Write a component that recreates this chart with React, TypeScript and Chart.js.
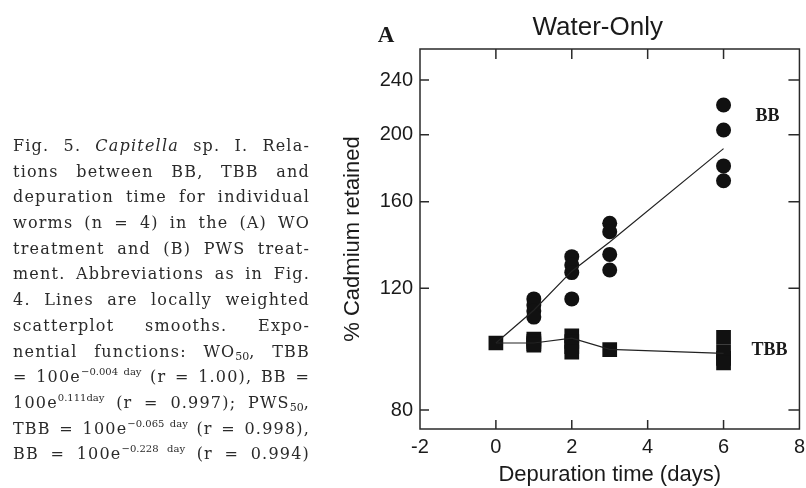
import React, { useEffect, useRef } from "react";
import { Chart, registerables } from "chart.js";

Chart.register(...registerables);

// ---- data ----
const bbDays = [1, 1, 1, 1, 2, 2, 2, 2, 3, 3, 3, 3, 6, 6, 6, 6];
const bbValues = [115.8, 113.5, 111.2, 109.0, 133.3, 129.6, 126.4, 115.8, 149.0, 144.8, 134.3, 127.5, 220.8, 203.2, 180.3, 171.6];
const tbbDays = [0, 1, 1, 1, 1, 2, 2, 2, 2, 3, 6, 6, 6, 6];
const tbbValues = [100, 101.3, 100.5, 99.8, 99.3, 102.4, 100.5, 98.8, 97.0, 97.8, 101.9, 97.0, 95.0, 93.6];
const fitDays = [0, 1, 2, 3, 6];
const bbFit = [100, 111.5, 127, 140, 191];
const tbbFit = [100, 100, 101.6, 97.9, 96.6];
const xTicks = [-2, 0, 2, 4, 6, 8];
const yTicks = [80, 120, 160, 200, 240];
const seriesNames = ["BB", "TBB"];
const seriesLabelX = [7.16, 7.21];
const seriesLabelY = [213, 97.7];

const SANS = '"Liberation Sans", Arial, sans-serif';
const SERIF = '"Liberation Serif", "Times New Roman", serif';

const toPts = (xs: number[], ys: number[]) => xs.map((x, i) => ({ x, y: ys[i] }));

const framePlugin = {
  id: "frameTicks",
  afterDraw(chart: any) {
    const { ctx, chartArea } = chart;
    const { left, right, top, bottom } = chartArea;
    const xs = chart.scales.x;
    const ys = chart.scales.y;
    ctx.save();
    ctx.strokeStyle = "#2a2a2a";
    ctx.lineWidth = 1.5;
    ctx.strokeRect(left, top, right - left, bottom - top);
    ctx.beginPath();
    xTicks.forEach((v) => {
      const px = xs.getPixelForValue(v);
      if (px <= left + 1 || px >= right - 1) return;
      ctx.moveTo(px, bottom);
      ctx.lineTo(px, bottom - 9);
      ctx.moveTo(px, top);
      ctx.lineTo(px, top + 10);
    });
    yTicks.forEach((v) => {
      const py = ys.getPixelForValue(v);
      ctx.moveTo(left, py);
      ctx.lineTo(left + 9, py);
      ctx.moveTo(right, py);
      ctx.lineTo(right - 11, py);
    });
    ctx.stroke();

    // series labels
    ctx.fillStyle = "#1a1a1a";
    ctx.font = "bold 18px " + SERIF;
    ctx.textAlign = "center";
    ctx.textBaseline = "middle";
    seriesNames.forEach((n, i) => {
      ctx.fillText(n, xs.getPixelForValue(seriesLabelX[i]), ys.getPixelForValue(seriesLabelY[i]));
    });

    // panel title and letter
    ctx.font = "26px " + SANS;
    ctx.fillText("Water-Only", (left + right) / 2 - 12, top - 21);
    ctx.font = "bold 23px " + SERIF;
    ctx.fillText("A", left - 34, top - 13);
    ctx.restore();
  },
};

function ChartBox() {
  const ref = useRef<HTMLCanvasElement | null>(null);
  useEffect(() => {
    if (!ref.current) return;
    const chart = new Chart(ref.current, {
      type: "scatter",
      data: {
        datasets: [
          {
            label: "BB fit",
            type: "line",
            data: toPts(fitDays, bbFit),
            borderColor: "#222",
            borderWidth: 1.2,
            pointRadius: 0,
            showLine: true,
            fill: false,
          },
          {
            label: "TBB fit",
            type: "line",
            data: toPts(fitDays, tbbFit),
            borderColor: "#222",
            borderWidth: 1.2,
            pointRadius: 0,
            showLine: true,
            fill: false,
          },
          {
            label: "BB",
            data: toPts(bbDays, bbValues),
            pointStyle: "circle",
            pointRadius: 7.5,
            pointBorderWidth: 0,
            backgroundColor: "#111",
            borderColor: "#111",
          },
          {
            label: "TBB",
            data: toPts(tbbDays, tbbValues),
            pointStyle: "rect",
            pointRadius: 10.4,
            pointBorderWidth: 0,
            backgroundColor: "#111",
            borderColor: "#111",
          },
        ],
      } as any,
      options: {
        animation: false,
        responsive: false,
        events: [],
        layout: { padding: { left: 340, top: 49, right: 1, bottom: 0 } },
        plugins: { legend: { display: false }, tooltip: { enabled: false }, title: { display: false } },
        scales: {
          x: {
            type: "linear",
            min: -2,
            max: 8,
            afterBuildTicks: (s: any) => {
              s.ticks = xTicks.map((v) => ({ value: v }));
            },
            afterFit: (s: any) => {
              s.height = 59;
            },
            grid: { display: false, drawTicks: false },
            border: { display: false },
            ticks: {
              color: "#1a1a1a",
              font: { family: SANS, size: 20 },
              padding: 6,
              maxRotation: 0,
              callback: (v: any) => String(v),
            },
            title: {
              display: true,
              text: "Depuration time (days)",
              color: "#1a1a1a",
              font: { family: SANS, size: 22 },
              padding: { top: 0, bottom: 0 },
            },
          },
          y: {
            type: "logarithmic",
            min: 75.1,
            max: 266.1,
            afterBuildTicks: (s: any) => {
              s.ticks = yTicks.map((v) => ({ value: v }));
            },
            afterFit: (s: any) => {
              s.width = 80;
            },
            grid: { display: false, drawTicks: false },
            border: { display: false },
            ticks: {
              color: "#1a1a1a",
              font: { family: SANS, size: 20 },
              padding: 7,
              callback: (v: any) => String(v),
            },
            title: {
              display: true,
              text: "% Cadmium retained",
              color: "#1a1a1a",
              font: { family: SANS, size: 22 },
              padding: { top: 0, bottom: 0 },
            },
          },
        },
      } as any,
      plugins: [framePlugin],
    });
    return () => chart.destroy();
  }, []);
  return <canvas ref={ref} width={811} height={488} style={{ position: "absolute", left: 0, top: 0 }} />;
}

const lineStyle: React.CSSProperties = {
  textAlign: "justify",
  textAlignLast: "justify",
  whiteSpace: "nowrap",
  height: 25.7,
};
const sup: React.CSSProperties = { fontSize: "10px", verticalAlign: "7px", lineHeight: 0, letterSpacing: "0px" };
const sub: React.CSSProperties = { fontSize: "11px", verticalAlign: "-3px", lineHeight: 0, letterSpacing: "0px" };

function Caption() {
  return (
    <div
      style={{
        position: "absolute",
        left: 13,
        top: 133,
        width: 297,
        fontFamily: '"DejaVu Serif", serif',
        fontSize: "16px",
        letterSpacing: "1.2px",
        lineHeight: "25.7px",
        color: "#2a2a2a",
      }}
    >
      <div style={lineStyle}>Fig. 5. <i>Capitella</i> sp. I. Rela-</div>
      <div style={lineStyle}>tions between BB, TBB and</div>
      <div style={lineStyle}>depuration time for individual</div>
      <div style={lineStyle}>worms (n = 4) in the (A) WO</div>
      <div style={lineStyle}>treatment and (B) PWS treat-</div>
      <div style={lineStyle}>ment. Abbreviations as in Fig.</div>
      <div style={lineStyle}>4. Lines are locally weighted</div>
      <div style={lineStyle}>scatterplot smooths. Expo-</div>
      <div style={lineStyle}>nential functions: WO<span style={sub}>50</span>, TBB</div>
      <div style={lineStyle}>= 100e<span style={sup}>−0.004 day</span> (r = 1.00), BB =</div>
      <div style={lineStyle}>100e<span style={sup}>0.111day</span> (r = 0.997); PWS<span style={sub}>50</span>,</div>
      <div style={lineStyle}>TBB = 100e<span style={sup}>−0.065 day</span> (r = 0.998),</div>
      <div style={lineStyle}>BB = 100e<span style={sup}>−0.228 day</span> (r = 0.994)</div>
    </div>
  );
}

export default function App() {
  return (
    <div style={{ position: "absolute", left: 0, top: 0, width: 806, height: 488, background: "#fff", overflow: "hidden" }}>
      <ChartBox />
      <Caption />
    </div>
  );
}
